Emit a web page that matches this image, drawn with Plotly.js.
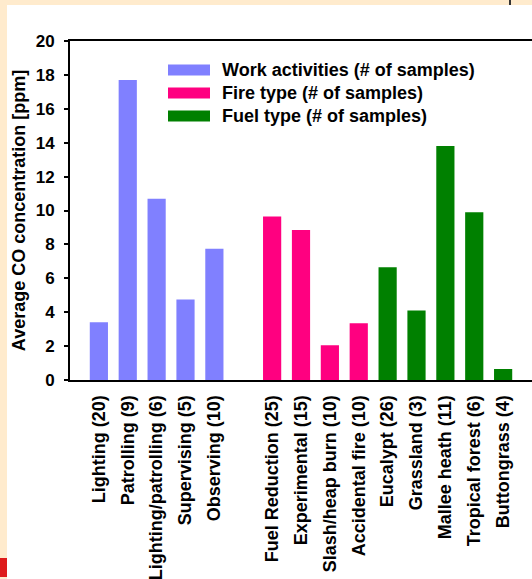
<!DOCTYPE html>
<html>
<head>
<meta charset="utf-8">
<script src="https://cdn.plot.ly/plotly-3.0.1.min.js"></script>
<style>
  html, body { margin: 0; padding: 0; width: 532px; height: 579px; overflow: hidden; background: #FFEBCD; }
  #chart { position: absolute; left: 7px; top: 5px; width: 525px; height: 574px; background: #ffffff; }
  #redblock { position: absolute; left: 0px; top: 558px; width: 7px; height: 19px; background: #DE1B1B; }
  #vline { position: absolute; left: 509px; top: 0px; width: 2px; height: 5px; background: #333333; }
</style>
</head>
<body>
<div id="chart"></div>
<div id="redblock"></div>
<div id="vline"></div>
<script>
// ---- data ----
var seriesNames = ['Work activities (# of samples)', 'Fire type (# of samples)', 'Fuel type (# of samples)'];
var workLabels = ['Lighting (20)', 'Patrolling (9)', 'Lighting/patrolling (6)', 'Supervising (5)', 'Observing (10)'];
var workValues = [3.4, 17.7, 10.7, 4.75, 7.75];
var fireLabels = ['Fuel Reduction (25)', 'Experimental (15)', 'Slash/heap burn (10)', 'Accidental fire (10)'];
var fireValues = [9.65, 8.85, 2.05, 3.35];
var fuelLabels = ['Eucalypt (26)', 'Grassland (3)', 'Mallee heath (11)', 'Tropical forest (6)', 'Buttongrass (4)'];
var fuelValues = [6.65, 4.1, 13.8, 9.9, 0.65];
var yTicks = [0, 2, 4, 6, 8, 10, 12, 14, 16, 18, 20];
var yTitle = 'Average CO concentration [ppm]';

var colors = ['#8080FF', '#FF0080', '#008000'];

// category slots: work group, one empty slot, fire group, fuel group
var allLabels = workLabels.concat([''], fireLabels, fuelLabels);
function idx(lbl) { return allLabels.indexOf(lbl); }

var groups = [
  {labels: workLabels, values: workValues},
  {labels: fireLabels, values: fireValues},
  {labels: fuelLabels, values: fuelValues}
];

var FONT = '"Liberation Sans", Arial, Helvetica, sans-serif';
function b(s) { return '<b>' + s + '</b>'; }

var traces = groups.map(function (g, i) {
  return {
    type: 'bar',
    name: seriesNames[i],
    x: g.labels.map(idx),
    y: g.values,
    width: 0.63,
    marker: {color: colors[i], line: {width: 0}},
    showlegend: false,
    hoverinfo: 'y'
  };
});

var tickvals = [], ticktext = [];
allLabels.forEach(function (l, i) { if (l !== '') { tickvals.push(i); ticktext.push(b(l)); } });

// legend drawn as swatches + text
var W = 525, H = 574, ml = 63, mt = 36, mr = 0, mb = 199;
var pw = W - ml - mr, ph = H - mt - mb;
function px2x(p) { return (p - ml) / pw; }
function px2y(p) { return (H - mb - p) / ph; }
var rowY = [65, 88, 111];
var shapes = [], annotations = [];
seriesNames.forEach(function (n, i) {
  shapes.push({
    type: 'rect', xref: 'paper', yref: 'paper',
    x0: px2x(161), x1: px2x(203),
    y0: px2y(rowY[i] + 5.5), y1: px2y(rowY[i] - 5.5),
    fillcolor: colors[i], line: {width: 0}
  });
  annotations.push({
    xref: 'paper', yref: 'paper', x: px2x(213), y: px2y(rowY[i]),
    xanchor: 'left', yanchor: 'middle', showarrow: false,
    text: b(n), font: {family: FONT, size: 18, color: '#000000'}
  });
});

var layout = {
  width: W, height: H,
  margin: {l: ml, r: mr, t: mt, b: mb, pad: 0},
  paper_bgcolor: '#ffffff',
  plot_bgcolor: '#ffffff',
  showlegend: false,
  font: {family: FONT, size: 17, color: '#000000'},
  xaxis: {
    range: [-1, 15],
    tickmode: 'array', tickvals: tickvals, ticktext: ticktext,
    tickangle: -90,
    ticks: '',
    showline: true, linecolor: '#000000', linewidth: 2, mirror: true,
    showgrid: false, zeroline: false,
    tickfont: {family: FONT, size: 18, color: '#000000'},
    ticklabelstandoff: 6,
    fixedrange: true
  },
  yaxis: {
    range: [0, 20],
    tickmode: 'array', tickvals: yTicks, ticktext: yTicks.map(function (v) { return b(String(v)); }),
    ticks: 'outside', ticklen: 4, tickwidth: 2, tickcolor: '#000000',
    showline: true, linecolor: '#000000', linewidth: 2,
    showgrid: false, zeroline: false,
    tickfont: {family: FONT, size: 17, color: '#000000'},
    ticklabelstandoff: 6,
    title: {text: b(yTitle), font: {family: FONT, size: 18, color: '#000000'}, standoff: 5},
    fixedrange: true
  },
  shapes: shapes,
  annotations: annotations
};

Plotly.newPlot('chart', traces, layout, {displayModeBar: false, staticPlot: true});
</script>
</body>
</html>
